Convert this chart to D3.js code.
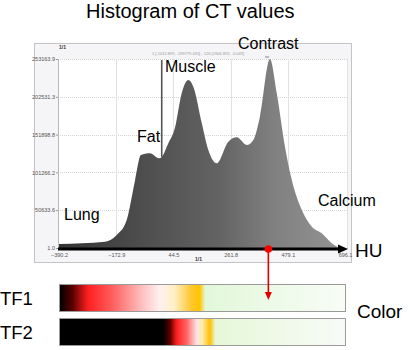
<!DOCTYPE html>
<html><head><meta charset="utf-8">
<script src="https://cdn.jsdelivr.net/npm/d3@7"></script>
<style>html,body{margin:0;padding:0;background:#fff;} svg{display:block;font-family:Arial,"Liberation Sans",sans-serif;}</style>
</head><body>
<script>
// ---- data ----
const huValues = [-390, -215, -171, -133, -101, -79, -45, -10, 0, 25, 50, 76, 101, 120, 152, 177, 209, 253, 285, 323, 348, 373, 411, 437, 468, 494, 532, 570, 608, 646, 677, 696];
const counts   = [5400, 8400, 17400, 37500, 91100, 124600, 126900, 120200, 122000, 140200, 160700, 207600, 225000, 216100, 167400, 131300, 113500, 142400, 148300, 138000, 144700, 175900, 253163, 207200, 135700, 91100, 50900, 28500, 19700, 6300, 600, 1];
const xTickValues = [-390.2, -172.9, 44.5, 261.8, 479.1, 696.1];
const yTickValues = [1.0, 50633.6, 101266.2, 151898.8, 202531.3, 253163.9];
const tissueLabels = ["Lung", "Fat", "Muscle", "Contrast", "Calcium"];
const tfNames = ["TF1", "TF2"];
const markerHU = 0;        // fat/muscle boundary line
const contrastHU = 400;    // small top marker
const selectedHU = 405;    // red selection
const infoText = "1 [-1012.899, -199779.431] - 126 [1906.859, -0.049]";

const W = 411, H = 350;
const svg = d3.select("body").append("svg").attr("width", W).attr("height", H);
const defs = svg.append("defs");

const x = d3.scaleLinear().domain([-390.2, 696.1]).range([59, 345]);
const y = d3.scaleLinear().domain([1, 253163.9]).range([248, 59]);

// title
svg.append("text").attr("x", 86).attr("y", 18).attr("font-size", 20).attr("fill", "#000").text("Histogram of CT values");

// panel
svg.append("rect").attr("x", 34.5).attr("y", 43.5).attr("width", 317).attr("height", 219)
  .attr("fill", "#f5f4f6").attr("stroke", "#c4c4c4");
svg.append("rect").attr("x", 58).attr("y", 59).attr("width", 289).attr("height", 190).attr("fill", "#fff");

// grid
svg.append("g").selectAll("line").data(yTickValues).join("line")
  .attr("x1", 58).attr("x2", 347).attr("y1", d => Math.round(y(d)) + 0.5).attr("y2", d => Math.round(y(d)) + 0.5)
  .attr("stroke", "#d4d4d4").attr("stroke-dasharray", "1,1");
svg.append("g").selectAll("line").data(xTickValues.slice(1, -1)).join("line")
  .attr("x1", d => Math.round(x(d)) + 0.5).attr("x2", d => Math.round(x(d)) + 0.5).attr("y1", 59).attr("y2", 249)
  .attr("stroke", "#e2e2e2");
svg.append("line").attr("x1", 347.5).attr("x2", 347.5).attr("y1", 59).attr("y2", 249).attr("stroke", "#e2e2e2");
svg.append("line").attr("x1", 58.5).attr("x2", 58.5).attr("y1", 59).attr("y2", 250).attr("stroke", "#b8b8b8");

// histogram gradient
const hg = defs.append("linearGradient").attr("id", "hg").attr("gradientUnits", "userSpaceOnUse")
  .attr("x1", x(-390.2)).attr("x2", x(696.1)).attr("y1", 0).attr("y2", 0);
[[0, "#333333"], [0.25, "#4a4a4a"], [0.56, "#636363"], [0.75, "#808080"], [0.95, "#909090"], [1, "#959595"]]
  .forEach(s => hg.append("stop").attr("offset", s[0]).attr("stop-color", s[1]));

const hist = huValues.map((h, i) => ({h, c: counts[i]}));
const area = d3.area().x(d => x(d.h)).y0(y(1)).y1(d => y(d.c)).curve(d3.curveMonotoneX);
svg.append("path").datum(hist).attr("d", area).attr("fill", "url(#hg)");

// fat/muscle boundary line
const cAt0 = counts[huValues.indexOf(markerHU)];
svg.append("line").attr("x1", x(markerHU)).attr("x2", x(markerHU)).attr("y1", 60).attr("y2", y(cAt0))
  .attr("stroke", "#555").attr("stroke-width", 1.6);
// contrast small marker
svg.append("rect").attr("x", x(contrastHU) - 2).attr("y", 56).attr("width", 4).attr("height", 2).attr("fill", "#b8bccc");

// axes (tick labels)
const fmt = d3.format(".1f");
const xAxis = d3.axisBottom(x).tickValues(xTickValues).tickFormat(fmt).tickSize(0).tickPadding(4);
const gx = svg.append("g").attr("transform", "translate(0,249)").call(xAxis);
gx.select(".domain").remove();
gx.selectAll("text").attr("font-size", 5.5).attr("fill", "#555").attr("font-family", "Arial");
const yAxis = d3.axisLeft(y).tickValues(yTickValues).tickFormat(fmt).tickSize(2).tickPadding(1);
const gy = svg.append("g").attr("transform", "translate(58,0)").call(yAxis);
gy.select(".domain").remove();
gy.selectAll("line").attr("stroke", "#999");
gy.selectAll("text").attr("font-size", 5.5).attr("fill", "#555").attr("font-family", "Arial");

// black x axis arrow
svg.append("line").attr("x1", 58).attr("x2", 340).attr("y1", 249).attr("y2", 249).attr("stroke", "#000").attr("stroke-width", 3);
svg.append("path").attr("d", "M338,244.5 L348,249 L338,253.5 Z").attr("fill", "#000");

// small texts
svg.append("text").attr("x", 59).attr("y", 49).attr("font-size", 5).attr("font-weight", "bold").attr("fill", "#333").text("1/1");
svg.append("text").attr("x", 195).attr("y", 261).attr("font-size", 5).attr("font-weight", "bold").attr("fill", "#333").text("1/1");
svg.append("text").attr("x", 198).attr("y", 55).attr("text-anchor", "middle").attr("font-size", 4).attr("fill", "#999").text(infoText);

// tissue labels
const labelPos = [[64, 220], [137, 142], [165, 72], [238, 49], [318, 206]];
svg.append("g").selectAll("text").data(tissueLabels).join("text")
  .attr("x", (d, i) => labelPos[i][0]).attr("y", (d, i) => labelPos[i][1])
  .attr("font-size", 16).attr("fill", "#000").text(d => d);
svg.append("text").attr("x", 355).attr("y", 257).attr("font-size", 19).attr("fill", "#000").text("HU");

// transfer function bars
const tfStops = [
  [[0, "#000"], [0.045, "#5a0000"], [0.10, "#ff2020"], [0.18, "#ff5a5a"], [0.28, "#ffb8b8"], [0.35, "#fff0f0"], [0.40, "#fff0c8"], [0.46, "#ffc830"], [0.49, "#ffc400"], [0.51, "#e2f8da"], [1, "#f8fcf6"]],
  [[0, "#000"], [0.363, "#000"], [0.387, "#600000"], [0.41, "#ff2020"], [0.445, "#ff6464"], [0.48, "#ffe4e4"], [0.50, "#ffeaa8"], [0.526, "#ffc000"], [0.545, "#e6f8d8"], [1, "#f8faf8"]]
];
const barY = [284, 318];
tfNames.forEach((name, i) => {
  const g = defs.append("linearGradient").attr("id", "tf" + i).attr("x1", 0).attr("x2", 1).attr("y1", 0).attr("y2", 0);
  tfStops[i].forEach(s => g.append("stop").attr("offset", s[0]).attr("stop-color", s[1]));
  svg.append("rect").attr("x", 59.5).attr("y", barY[i] + 0.5).attr("width", 286).attr("height", 27)
    .attr("fill", "url(#tf" + i + ")").attr("stroke", "#9a9a9a");
  svg.append("text").attr("x", 0).attr("y", barY[i] + 21).attr("font-size", 18.5).attr("fill", "#000").text(name);
});
svg.append("text").attr("x", 357).attr("y", 318).attr("font-size", 19).attr("fill", "#000").text("Color");

// red selection marker + arrow
const sx = x(selectedHU);
svg.append("line").attr("x1", sx).attr("x2", sx).attr("y1", 249).attr("y2", 293).attr("stroke", "#e00000").attr("stroke-width", 1.6);
svg.append("path").attr("d", `M${sx-3.5},292 L${sx+3.5},292 L${sx},300 Z`).attr("fill", "#e00000");
svg.append("circle").attr("cx", sx).attr("cy", 249).attr("r", 3.8).attr("fill", "#ff0000");
</script>
</body></html>
